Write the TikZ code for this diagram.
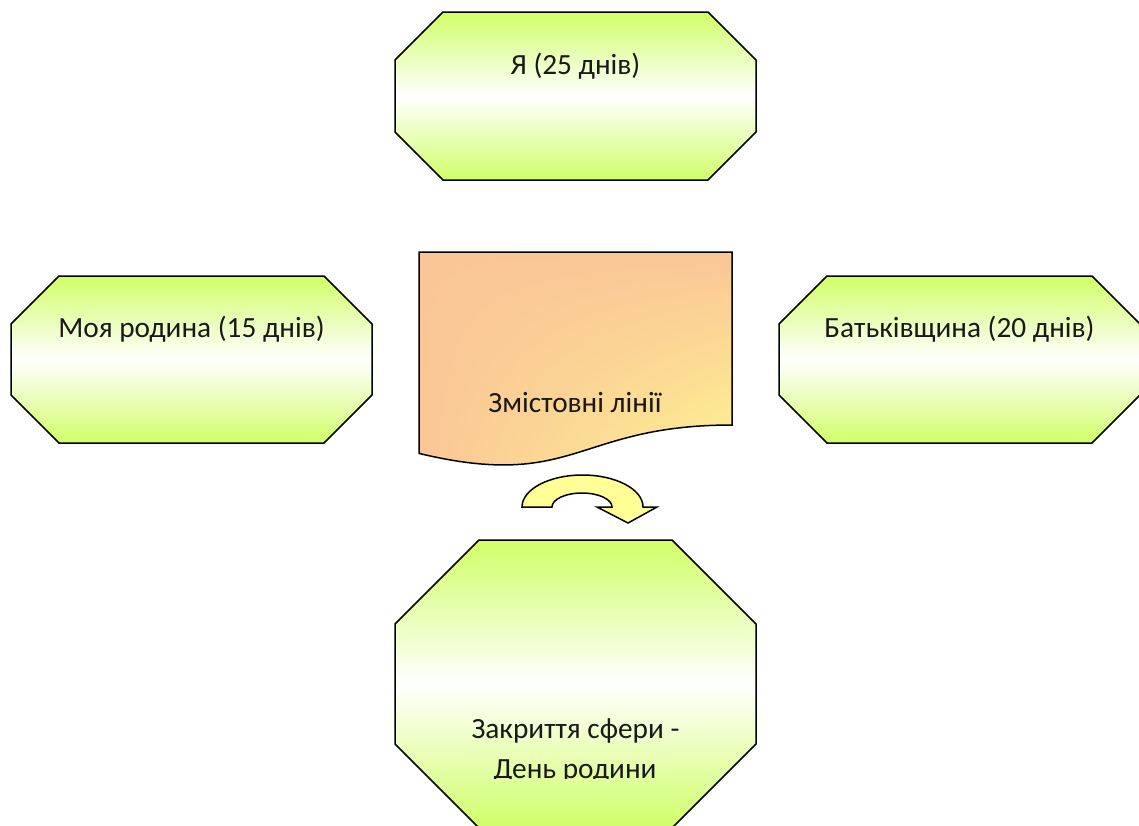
\documentclass[tikz,border=0pt]{standalone}
\usepackage{fontspec}
\setmainfont{Carlito}
\usetikzlibrary{shadings}
\definecolor{limeg}{RGB}{208,255,104}
\definecolor{docor}{RGB}{250,198,150}
\definecolor{docye}{RGB}{255,250,145}
\definecolor{arrowye}{RGB}{255,255,150}
\tikzset{
  oct/.style={draw=black, line width=1.5pt, top color=limeg, bottom color=limeg, middle color=white, line join=miter},
  lbl/.style={font=\fontsize{29.3}{40}\selectfont, anchor=base, inner sep=0pt, text=black!90},
  docshape/.style={draw=black, line width=1.5pt, upper left=docor, upper right=docor, lower left=docor, lower right=docye},
  uturn/.style={draw=black, line width=1.5pt, fill=arrowye, line join=miter}
}
\begin{document}
\begin{tikzpicture}[x=1pt,y=-1pt]
\useasboundingbox (0,0) rectangle (1139,825);
\clip (0,0) rectangle (1139,825);
% top octagon
\path[oct] (443,12) -- (708,12) -- (756,60) -- (756,132) -- (708,180) -- (443,180) -- (395,132) -- (395,60) -- cycle;
% left octagon
\path[oct] (59,276) -- (324,276) -- (372,324) -- (372,395) -- (324,443) -- (59,443) -- (11,395) -- (11,324) -- cycle;
% right octagon
\path[oct] (827,276) -- (1092,276) -- (1140,324) -- (1140,395) -- (1092,443) -- (827,443) -- (779,395) -- (779,324) -- cycle;
% bottom octagon
\path[oct] (479,540) -- (672,540) -- (756,624) -- (756,744) -- (672,828) -- (479,828) -- (395,744) -- (395,624) -- cycle;
% document shape
\path[docshape] (419,252) -- (732,252) -- (732,425) .. controls (575.5,425) and (575.5,490.9) .. (419,453.4) -- cycle;
% u-turn arrow
\path[uturn] (522,507) arc[start angle=180, end angle=360, x radius=60.5, y radius=32] -- (657,507) -- (628,523) -- (597,507) -- (612,507) arc[start angle=0, end angle=-180, x radius=30, y radius=14] -- cycle;
% labels
\node[lbl] (tya) at (575.5,74) {Я (25 днів)};
\node[lbl] (tfam) at (191.5,337) {Моя родина (15 днів)};
\node[lbl] (tbat) at (959.5,337) {Батьківщина (20 днів)};
\node[lbl] (tzm) at (575,412) {Змістовні лінії};
\node[lbl] (tend1) at (575.5,738) {Закриття сфери -};
\begin{scope}
\clip (0,0) rectangle (1139,778.5);
\node[lbl] (tend2) at (575,778) {День родини};
\end{scope}
\end{tikzpicture}
\end{document}
